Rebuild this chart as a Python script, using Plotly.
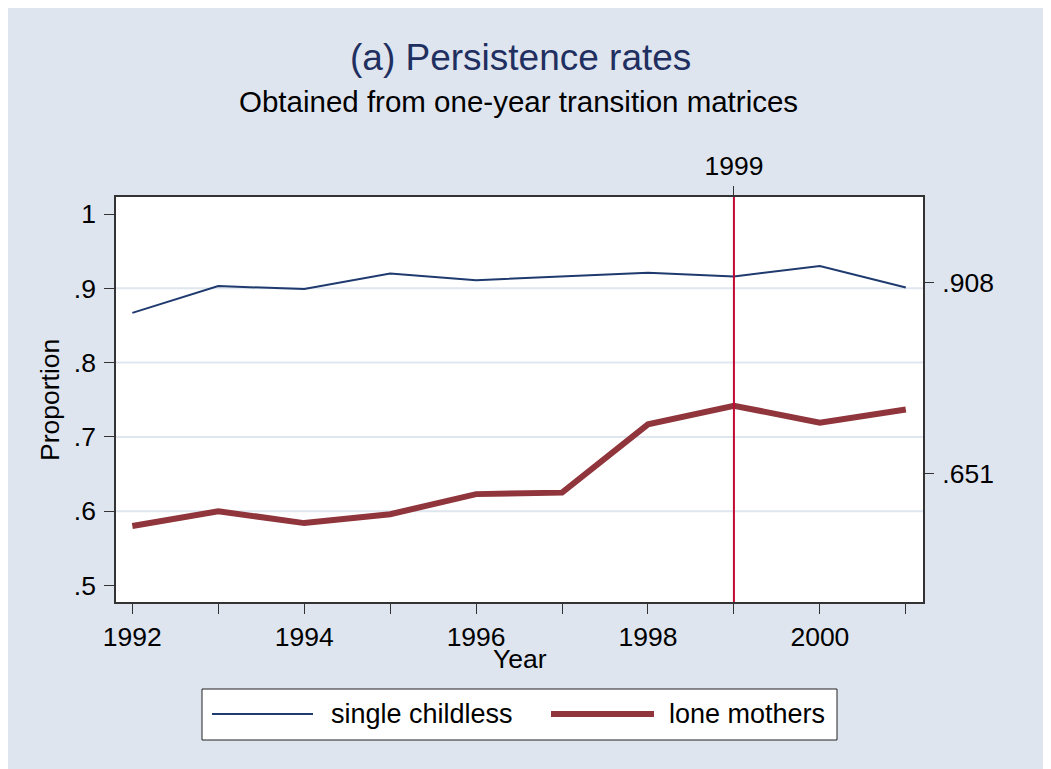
import plotly.graph_objects as go

# ---- data ----
years = [1992, 1993, 1994, 1995, 1996, 1997, 1998, 1999, 2000, 2001]
single_childless = [0.867, 0.903, 0.899, 0.920, 0.911, 0.916, 0.921, 0.916, 0.930, 0.901]
lone_mothers = [0.580, 0.600, 0.584, 0.596, 0.623, 0.625, 0.717, 0.742, 0.719, 0.737]
left_ticks = [0.5, 0.6, 0.7, 0.8, 0.9, 1.0]
left_labels = [".5", ".6", ".7", ".8", ".9", "1"]
grid_vals = [0.6, 0.7, 0.8, 0.9]
right_ticks = [0.908, 0.651]
right_labels = [".908", ".651"]
x_labels = [str(y) if y % 2 == 0 else "" for y in years]
xline_year = 1999

# ---- layout geometry (page pixels; page body has an 8px margin) ----
OFF = 8
W, H = 1051 - OFF, 769 - OFF
L, R, T, B = 116, 923, 197, 602          # plot area in page pixels
PW, PH = R - L, B - T


def px(x):
    return (x - L) / PW


def py(y):
    return (B - y) / PH


FONT = "Liberation Sans, Arial, sans-serif"
BG = "#dee5ef"
NAVY = "#1f3a6e"
MAROON = "#90353b"
XLINE = "#c20a32"
GRID = "#dfe6f0"
AXC = "#333333"

fig = go.Figure()
fig.add_trace(go.Scatter(x=years, y=single_childless, mode="lines", name="single childless",
                         line=dict(color=NAVY, width=2), showlegend=False))
fig.add_trace(go.Scatter(x=years, y=lone_mothers, mode="lines", name="lone mothers",
                         line=dict(color=MAROON, width=6), showlegend=False))
# invisible traces to activate right and top axes
fig.add_trace(go.Scatter(x=years, y=single_childless, mode="lines", yaxis="y2",
                         line=dict(width=0), opacity=0, showlegend=False, hoverinfo="skip"))
fig.add_trace(go.Scatter(x=years, y=single_childless, mode="lines", xaxis="x2",
                         line=dict(width=0), opacity=0, showlegend=False, hoverinfo="skip"))

yrange = [0.4778, 1.0229]
xrange = [1991.81, 2001.2]

shapes = []
for g in grid_vals:
    shapes.append(dict(type="line", xref="paper", yref="y", layer="below",
                       x0=0, x1=1, y0=g, y1=g, line=dict(color=GRID, width=2)))
shapes.append(dict(type="line", xref="x", yref="paper", x0=xline_year, x1=xline_year,
                   y0=0, y1=1, line=dict(color=XLINE, width=2)))
# legend box
shapes.append(dict(type="rect", xref="paper", yref="paper",
                   x0=px(202), x1=px(837), y0=py(740), y1=py(689),
                   fillcolor="white", line=dict(color="#222222", width=1)))
shapes.append(dict(type="line", xref="paper", yref="paper",
                   x0=px(212), x1=px(313), y0=py(714), y1=py(714),
                   line=dict(color=NAVY, width=2)))
shapes.append(dict(type="line", xref="paper", yref="paper",
                   x0=px(551), x1=px(654), y0=py(714), y1=py(714),
                   line=dict(color=MAROON, width=6)))

annotations = [
    dict(text="(a) Persistence rates", x=px(520), y=py(57), xref="paper", yref="paper",
         showarrow=False, xanchor="center", yanchor="middle",
         font=dict(family=FONT, size=37, color="#1f2f5f")),
    dict(text="Obtained from one-year transition matrices", x=px(518), y=py(101),
         xref="paper", yref="paper", showarrow=False, xanchor="center", yanchor="middle",
         font=dict(family=FONT, size=29.5, color="black")),
    dict(text="Year", x=px(520), y=py(659), xref="paper", yref="paper",
         showarrow=False, xanchor="center", yanchor="middle",
         font=dict(family=FONT, size=26.5, color="black")),
    dict(text="Proportion", x=px(50), y=py(400), xref="paper", yref="paper",
         showarrow=False, xanchor="center", yanchor="middle", textangle=-90,
         font=dict(family=FONT, size=26.5, color="black")),
    dict(text="single childless", x=px(329), y=py(714), xref="paper", yref="paper",
         showarrow=False, xanchor="left", yanchor="middle",
         font=dict(family=FONT, size=27, color="black")),
    dict(text="lone mothers", x=px(667), y=py(714), xref="paper", yref="paper",
         showarrow=False, xanchor="left", yanchor="middle",
         font=dict(family=FONT, size=27, color="black")),
]

tickfont = dict(family=FONT, size=26.5, color="black")

fig.update_layout(
    width=W, height=H,
    margin=dict(l=L - OFF, r=W - (R - OFF), t=T - OFF, b=H - (B - OFF), pad=0),
    paper_bgcolor=BG,
    plot_bgcolor="white",
    showlegend=False,
    shapes=shapes,
    annotations=annotations,
    xaxis=dict(range=xrange, tickvals=years, ticktext=x_labels, ticks="outside",
               ticklen=10, tickwidth=1.2, tickcolor=AXC, showgrid=False, zeroline=False,
               showline=True, linecolor=AXC, linewidth=1.5, mirror=True,
               tickfont=tickfont),
    xaxis2=dict(range=xrange, overlaying="x", side="top", tickvals=[xline_year],
                ticktext=[str(xline_year)], ticks="outside", ticklen=10, tickwidth=1.2,
                tickcolor=AXC, showgrid=False, zeroline=False, showline=False,
                tickfont=tickfont),
    yaxis=dict(range=yrange, tickvals=left_ticks, ticktext=left_labels, ticks="outside",
               ticklen=10, tickwidth=1.2, tickcolor=AXC, showgrid=False, zeroline=False,
               showline=True, linecolor=AXC, linewidth=1.5, mirror=True,
               tickfont=tickfont, ticklabelstandoff=3),
    yaxis2=dict(range=yrange, overlaying="y", side="right", tickvals=right_ticks,
                ticktext=right_labels, ticks="outside", ticklen=10, tickwidth=1.2,
                tickcolor=AXC, showgrid=False, zeroline=False, showline=False,
                tickfont=tickfont, ticklabelstandoff=3),
)

fig.write_html("out.html")
